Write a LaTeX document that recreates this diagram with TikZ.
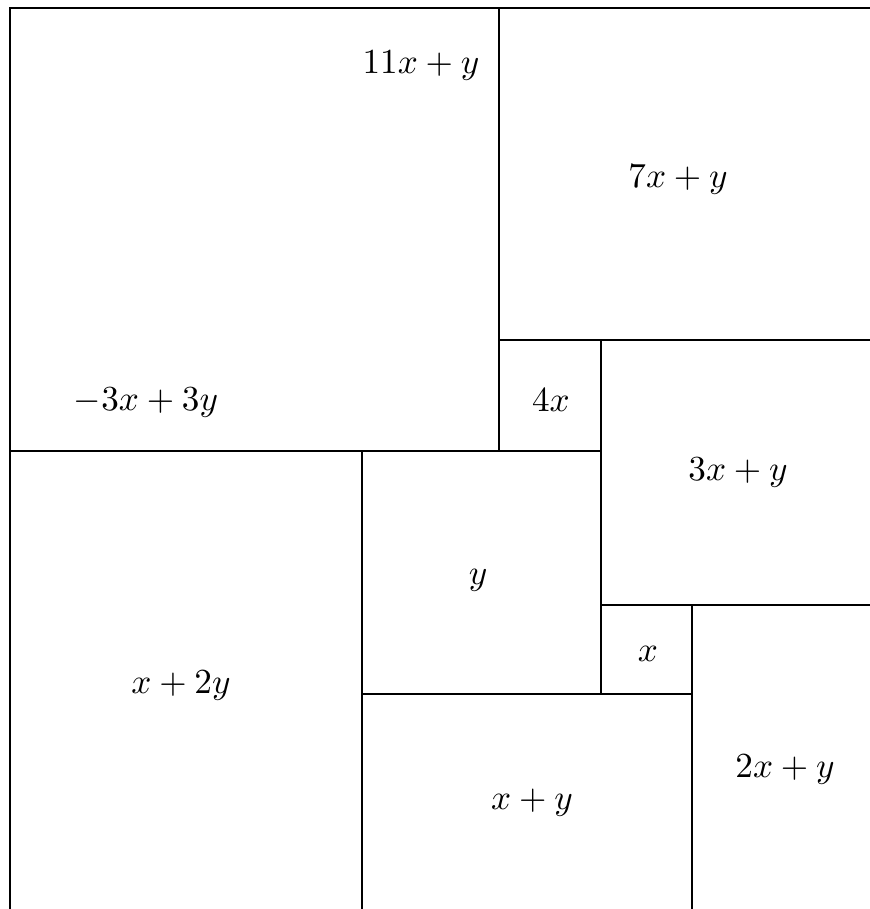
\documentclass[tikz,border=0pt]{standalone}
\usepackage{amsmath}
\usepackage{tikz}
\tikzset{
  edge/.style={line width=0.75pt, line cap=rect},
  lbl/.style={inner sep=1.5pt},
}
\begin{document}
\begin{tikzpicture}[x=0.01cm, y=-0.01cm]
    \useasboundingbox (0,0) rectangle (869,909);
    % outer border (top and left)
    \draw[edge] (869,8) -- (10,8) -- (10,909);
    % square edges
    \draw[edge] (499,8) -- (499,451);
    \draw[edge] (499,340) -- (869,340);
    \draw[edge] (10,451) -- (601,451);
    \draw[edge] (601,340) -- (601,694);
    \draw[edge] (601,605) -- (869,605);
    \draw[edge] (362,451) -- (362,909);
    \draw[edge] (362,694) -- (692,694);
    \draw[edge] (692,605) -- (692,909);
    % labels
    \node[lbl] (big) at (421,66) {$11x+y$};
    \node[lbl] (tr) at (678,180) {$7x+y$};
    \node[lbl] (neg) at (146,403) {$-3x+3y$};
    \node[lbl] (fourx) at (551,400) {$4x$};
    \node[lbl] (mr) at (738,473) {$3x+y$};
    \node[lbl] (sy) at (478,580) {$y$};
    \node[lbl] (sx) at (648,654) {$x$};
    \node[lbl] (bl) at (181,686) {$x+2y$};
    \node[lbl] (br) at (785,770) {$2x+y$};
    \node[lbl] (bm) at (532,803) {$x+y$};
  \end{tikzpicture}
\end{document}
